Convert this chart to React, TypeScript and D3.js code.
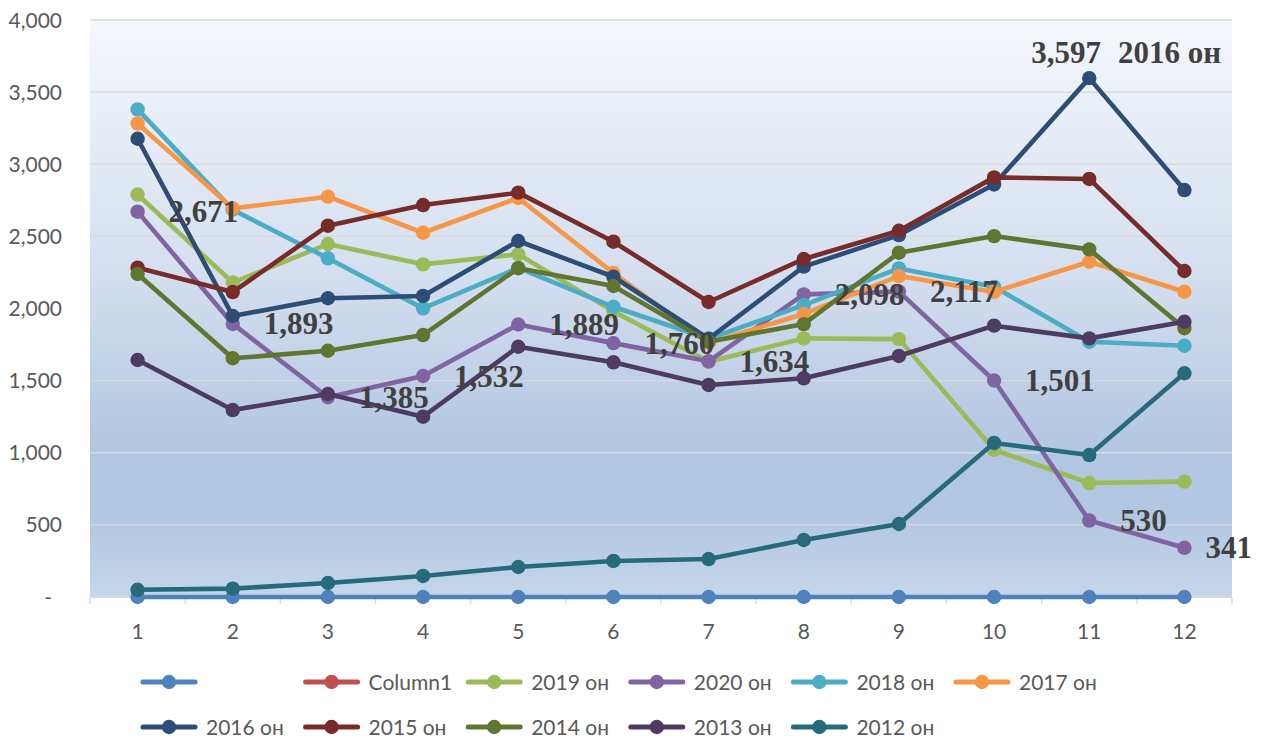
import React from 'react';
import * as d3 from 'd3';

const categories = ['1', '2', '3', '4', '5', '6', '7', '8', '9', '10', '11', '12'];
const yTicks = [0, 500, 1000, 1500, 2000, 2500, 3000, 3500, 4000];

const sBlank = [0, 0, 0, 0, 0, 0, 0, 0, 0, 0, 0, 0];
const sColumn1: number[] = [];
const s2019 = [2790, 2180, 2447, 2306, 2376, 1980, 1631, 1793, 1788, 1020, 790, 800];
const s2020 = [2671, 1893, 1385, 1532, 1889, 1760, 1634, 2098, 2117, 1501, 530, 341];
const s2018 = [3380, 2685, 2348, 2001, 2281, 2012, 1790, 2024, 2278, 2150, 1770, 1742];
const s2017 = [3283, 2694, 2775, 2525, 2766, 2246, 1762, 1962, 2225, 2115, 2324, 2116];
const s2016 = [3177, 1948, 2071, 2087, 2468, 2220, 1790, 2290, 2509, 2860, 3597, 2821];
const s2015 = [2283, 2114, 2574, 2717, 2803, 2463, 2045, 2343, 2539, 2909, 2898, 2260];
const s2014 = [2239, 1655, 1707, 1816, 2279, 2156, 1770, 1892, 2387, 2502, 2410, 1863];
const s2013 = [1643, 1296, 1407, 1250, 1735, 1627, 1470, 1516, 1671, 1881, 1793, 1908];
const s2012 = [50, 58, 97, 146, 208, 250, 263, 395, 506, 1068, 984, 1551];

const seriesNames = ['', 'Column1', '2019 он', '2020 он', '2018 он', '2017 он', '2016 он', '2015 он', '2014 он', '2013 он', '2012 он'];
const seriesValues = [sBlank, sColumn1, s2019, s2020, s2018, s2017, s2016, s2015, s2014, s2013, s2012];
const seriesColors = ['#4f81bd', '#c0504d', '#9bbb59', '#8064a2', '#4bacc6', '#f79646', '#2c4d75', '#772c2a', '#5f7530', '#4d3b62', '#276a7c'];

const W = 1266;
const H = 738;
const plot = { left: 90, right: 1232, top: 20, bottom: 597 };

const axisFont = "Lato, 'Open Sans', sans-serif";
const labelFont = "'Liberation Serif', 'Times New Roman', serif";

export default function App() {
  const x = d3.scaleBand<string>().domain(categories).range([plot.left, plot.right]);
  const cx = (c: string) => (x(c) as number) + x.bandwidth() / 2;
  const y = d3.scaleLinear().domain([0, 4000]).range([plot.bottom, plot.top]);
  const fmt = d3.format(',');
  const line = d3
    .line<number>()
    .x((_, i) => cx(categories[i]))
    .y((d) => y(d));

  const legendCols = 6;
  const legendX0 = 141;
  const legendStep = 162.6;
  const legendRowY = [682, 727];

  const idx2020 = seriesNames.indexOf('2020 он');
  const idx2016 = seriesNames.indexOf('2016 он');
  const peakI = s2016.indexOf(d3.max(s2016) as number);

  return (
    <svg width={W} height={H} style={{ position: 'absolute', left: 0, top: 0, background: '#fff' }}>
      <defs>
        <linearGradient id="plotBg" x1="0" y1="0" x2="0" y2="1">
          <stop offset="0" stopColor="#f5f8fc" />
          <stop offset="0.45" stopColor="#d3deef" />
          <stop offset="0.75" stopColor="#b1c6e1" />
          <stop offset="0.86" stopColor="#b2c7e2" />
          <stop offset="1" stopColor="#c6d6ea" />
        </linearGradient>
      </defs>
      <rect x={plot.left} y={plot.top} width={plot.right - plot.left} height={plot.bottom - plot.top} fill="url(#plotBg)" />

      {/* gridlines */}
      {yTicks.map((t) => (
        <line key={'g' + t} x1={plot.left} x2={plot.right} y1={y(t)} y2={y(t)} stroke="#d9d9d9" strokeWidth={1.4} />
      ))}

      {/* y labels */}
      {yTicks.map((t) => (
        <text
          key={'yl' + t}
          x={t === 0 ? 52 : 62}
          y={y(t) + 7.5}
          textAnchor="end"
          fontFamily={axisFont}
          fontSize={21}
          fill="#595959"
        >
          {t === 0 ? '-' : fmt(t)}
        </text>
      ))}

      {/* x axis line & ticks */}
      <line x1={plot.left} x2={plot.right} y1={plot.bottom} y2={plot.bottom} stroke="#d9d9d9" strokeWidth={1.4} />
      {[...categories.map((c) => x(c) as number), plot.right].map((tx, i) => (
        <line key={'xt' + i} x1={tx} x2={tx} y1={plot.bottom} y2={plot.bottom + 7} stroke="#d9d9d9" strokeWidth={1.4} />
      ))}
      {categories.map((c) => (
        <text key={'xl' + c} x={cx(c)} y={639} textAnchor="middle" fontFamily={axisFont} fontSize={21} fill="#595959">
          {c}
        </text>
      ))}

      {/* series */}
      {seriesValues.map((vals, si) =>
        vals.length ? (
          <g key={'s' + si}>
            <path d={line(vals) || ''} fill="none" stroke={seriesColors[si]} strokeWidth={4.6} strokeLinejoin="round" strokeLinecap="round" />
            {vals.map((v, i) => (
              <circle key={i} cx={cx(categories[i])} cy={y(v)} r={7.2} fill={seriesColors[si]} />
            ))}
          </g>
        ) : null
      )}

      {/* data labels for 2020 */}
      {seriesValues[idx2020].map((v, i) => (
        <text
          key={'dl' + i}
          x={cx(categories[i]) + (i === categories.length - 1 ? 21 : 31)}
          y={y(v) + 10.5}
          fontFamily={labelFont}
          fontWeight="bold"
          fontSize={31}
          fill="#404040"
        >
          {fmt(v)}
        </text>
      ))}

      {/* 2016 peak label */}
      <text
        x={cx(categories[peakI]) - 58}
        y={y(seriesValues[idx2016][peakI]) - 15}
        fontFamily={labelFont}
        fontWeight="bold"
        fontSize={31}
        fill="#404040"
      >
        <tspan>{fmt(seriesValues[idx2016][peakI])}</tspan>
        <tspan dx={17}>{seriesNames[idx2016]}</tspan>
      </text>

      {/* legend */}
      {seriesNames.map((name, si) => {
        const row = Math.floor(si / legendCols);
        const col = si % legendCols;
        const lx = legendX0 + col * legendStep;
        const ly = legendRowY[row];
        return (
          <g key={'lg' + si}>
            <line x1={lx + 2} x2={lx + 54} y1={ly} y2={ly} stroke={seriesColors[si]} strokeWidth={5} strokeLinecap="round" />
            <circle cx={lx + 28} cy={ly} r={7.2} fill={seriesColors[si]} />
            <text x={lx + 65} y={ly + 7.5} fontFamily={axisFont} fontSize={21} fill="#595959">
              {name}
            </text>
          </g>
        );
      })}
    </svg>
  );
}
